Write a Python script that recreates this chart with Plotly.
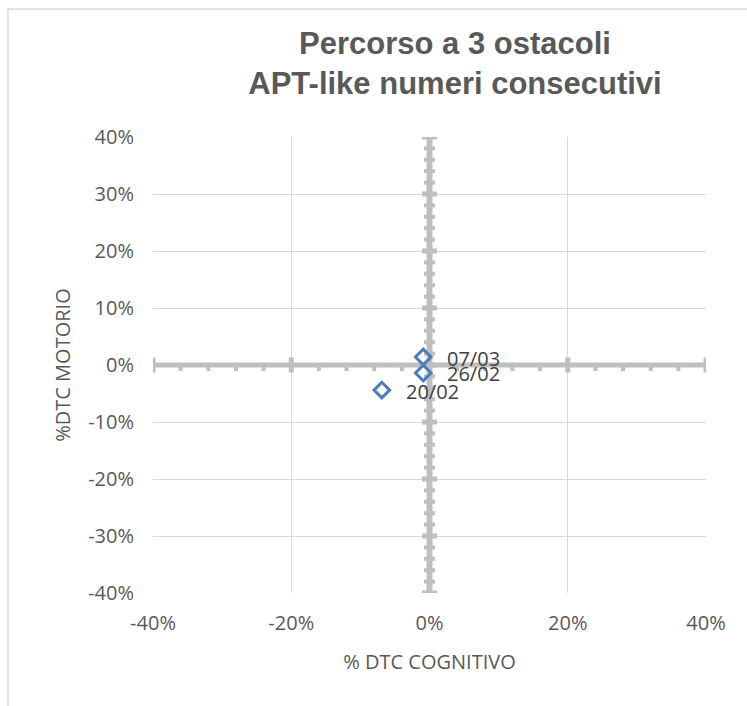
import plotly.graph_objects as go
import numpy as np

# ---- data ----
dates = ["07/03", "26/02", "20/02"]
dtc_cognitivo = [-0.009, -0.009, -0.069]
dtc_motorio = [0.014, -0.014, -0.044]

x_tickvals = [-0.4, -0.2, 0.0, 0.2, 0.4]
x_ticktext = ["-40%", "-20%", "0%", "20%", "40%"]
y_tickvals = [-0.4, -0.3, -0.2, -0.1, 0.0, 0.1, 0.2, 0.3, 0.4]
y_ticktext = ["-40%", "-30%", "-20%", "-10%", "0%", "10%", "20%", "30%", "40%"]

# minor tick spacing of the crossing zero axes
x_minor_step = 0.04
y_minor_step = 0.02

AX_GREY = "#bfbfbf"
GRID = "#d9d9d9"
TXT = "#595959"
BLUE = "#4a7ebb"
FONT = "Open Sans"

fig = go.Figure()
fig.add_trace(go.Scatter(
    x=dtc_cognitivo, y=dtc_motorio, mode="markers",
    marker=dict(symbol="diamond-open", size=12, color=BLUE,
                line=dict(color=BLUE, width=3)),
    showlegend=False, hoverinfo="skip",
))

# data labels
annotations = []
for d, xv, yv in zip(dates, dtc_cognitivo, dtc_motorio):
    annotations.append(dict(
        x=xv, y=yv, xref="x", yref="y", text=d, showarrow=False,
        xanchor="left", yanchor="middle", xshift=22, yshift=-1,
        font=dict(family=FONT, size=20, color="#404040"),
    ))

shapes = []
# zero axes (crossing in the middle)
shapes.append(dict(type="line", xref="x", yref="y", x0=-0.4, x1=0.4, y0=0, y1=0,
                   line=dict(color=AX_GREY, width=5), layer="between"))
shapes.append(dict(type="line", xref="x", yref="y", x0=0, x1=0, y0=-0.4, y1=0.4,
                   line=dict(color=AX_GREY, width=6), layer="between"))

def pix_rect(xa, ya, x0, x1, y0, y1):
    return dict(type="rect", xref="x", yref="y",
                xsizemode="pixel", xanchor=xa, x0=x0, x1=x1,
                ysizemode="pixel", yanchor=ya, y0=y0, y1=y1,
                fillcolor=AX_GREY, line=dict(width=0), layer="between")

# vertical zero-axis ticks (cross)
for v in np.round(np.arange(-0.4, 0.4001, y_minor_step), 4):
    if any(abs(v - t) < 1e-9 for t in y_tickvals):
        shapes.append(pix_rect(0, v, -7.5, 7.5, -2.5, 2.5))
    else:
        shapes.append(pix_rect(0, v, -5.5, 5.5, -2, 2))

# horizontal zero-axis ticks
for v in np.round(np.arange(-0.4, 0.4001, x_minor_step), 4):
    if any(abs(v - t) < 1e-9 for t in x_tickvals):
        if abs(v) > 1e-9:
            shapes.append(pix_rect(v, 0, -2.5, 2.5, -7.5, 7.5))
    else:
        shapes.append(pix_rect(v, 0, -2, 2, -6, 0))

# chart-area border
shapes.append(dict(type="rect", xref="paper", yref="paper",
                   x0=(8 - 153) / 553, x1=1.6, y0=-1.0, y1=(593 - 9) / 456,
                   line=dict(color=GRID, width=1.5), fillcolor="rgba(0,0,0,0)",
                   layer="below"))

fig.update_layout(
    width=747, height=706,
    margin=dict(l=153, r=41, t=137, b=113),
    paper_bgcolor="white", plot_bgcolor="white",
    font=dict(family=FONT, size=20, color=TXT),
    title=dict(
        text="<b>Percorso a 3 ostacoli<br>APT-like numeri consecutivi</b>",
        font=dict(family="Liberation Sans", size=31, color=TXT),
        x=(455 - 153) / 553, xref="paper", xanchor="center",
        y=1 - 53.5 / 706, yref="container", yanchor="middle",
    ),
    xaxis=dict(
        range=[-0.4, 0.4], tickvals=x_tickvals, ticktext=x_ticktext,
        showgrid=True, gridcolor=GRID, gridwidth=1,
        zeroline=False, showline=False, ticks="",
        ticklabelstandoff=16,
        tickfont=dict(family=FONT, size=20, color=TXT),
        title=dict(text="% DTC COGNITIVO", font=dict(family=FONT, size=20, color=TXT),
                   standoff=19),
    ),
    yaxis=dict(
        range=[-0.4, 0.4], tickvals=y_tickvals, ticktext=y_ticktext,
        showgrid=True, gridcolor=GRID, gridwidth=1,
        zeroline=False, showline=False, ticks="",
        ticklabelstandoff=18,
        tickfont=dict(family=FONT, size=20, color=TXT),
        title=dict(text="%DTC MOTORIO", font=dict(family=FONT, size=20, color=TXT),
                   standoff=12),
    ),
    shapes=shapes,
    annotations=annotations,
)

fig.write_html("out.html")
